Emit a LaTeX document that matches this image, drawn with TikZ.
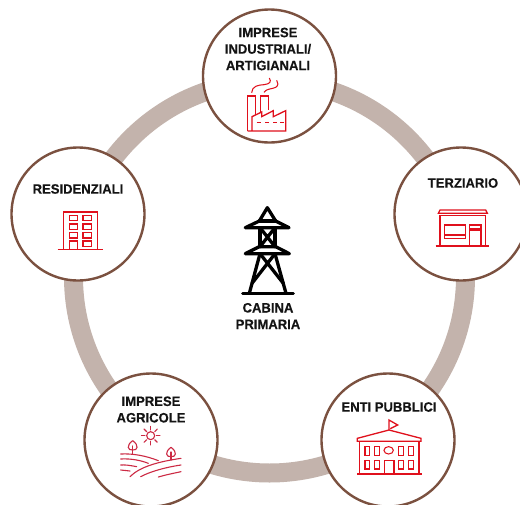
\documentclass[tikz,border=0pt]{standalone}
\usepackage{fontspec}
\usetikzlibrary{calc}
\setmainfont[BoldFeatures={FakeStretch=0.96,FakeBold=0.25}]{Liberation Sans}
\definecolor{ringc}{HTML}{C3B3AC}
\definecolor{rimc}{HTML}{7B5140}
\definecolor{iconred}{HTML}{E0101C}
\definecolor{fieldred}{HTML}{CC2A44}
\definecolor{labelc}{HTML}{141414}
\tikzset{
  hub/.style={circle,draw=rimc,line width=2.4pt,fill=white,minimum size=133pt,inner sep=0pt},
  hublabel/.style={font=\bfseries\fontsize{13.6}{16.5}\selectfont,text=labelc,align=center,inner sep=0pt},
  zoomed/.style={x=0.33333pt,y=-0.33333pt},
  icon/.style={draw=iconred,line width=1.3pt,line join=miter},
  iconthin/.style={draw=iconred,line width=1.05pt,line join=miter},
  field/.style={draw=fieldred,line width=1.1pt,line cap=round},
  pylon/.style={draw=black,line width=3.3pt,line join=round,line cap=round}
}
\begin{document}
\begin{tikzpicture}[x=1pt,y=-1pt]
\useasboundingbox (0,0) rectangle (520,504);
\clip (0,0) rectangle (520,504);
\fill[white] (0,0) rectangle (520,504);
% ring
\draw[ringc,line width=19pt] (269.5,277) circle[radius=196pt];
% hubs
\node[hub] (top) at (269.5,76) {};
\node[hub] (right) at (461,214) {};
\node[hub] (left) at (78,214) {};
\node[hub] (agri) at (151,440) {};
\node[hub] (pub) at (388,440) {};
% labels
\node[hublabel] (ltop) at (268,49) {IMPRESE\\INDUSTRIALI/\\ARTIGIANALI};
\node[hublabel] (lright) at (463,183) {TERZIARIO};
\node[hublabel] (lleft) at (78,189) {RESIDENZIALI};
\node[hublabel] (lagri) at (151,409.5) {IMPRESE\\AGRICOLE};
\node[hublabel] (lpub) at (389,407) {ENTI PUBBLICI};
\node[hublabel] (lcab) at (268,316) {CABINA\\PRIMARIA};
% factory
\begin{scope}[shift={(190pt,0pt)},zoomed]
\draw[icon] (173,393) -- (173,288) -- (197,288) -- (197,345);
\draw[icon] (212,340) -- (212,288) -- (236,288) -- (236,330);
\draw[icon] (173,393) -- (287,393) -- (287,332) -- (250,350) -- (250,332) -- (215,350) -- (215,336) -- (186,350) -- (186,393);
\foreach \a in {200,225,250,270}{\draw[iconthin] (\a,368) -- (\a+12,368);}
\draw[iconthin] (185,278) .. controls (186,258) and (205,255) .. (222,254) .. controls (240,252) and (245,245) .. (238,234);
\draw[iconthin] (222,277) .. controls (230,265) and (245,268) .. (257,262) .. controls (266,256) and (265,248) .. (260,241);
\end{scope}
% shop
\begin{scope}[shift={(380pt,-150pt)},zoomed]
\draw[icon] (175,190) -- (180,180) -- (317,180) -- (322,190) -- cycle;
\draw[icon] (180,288) -- (180,197) -- (316,197) -- (316,288);
\draw[icon] (167,288) -- (328,288);
\draw[icon] (193,225) rectangle (257,265);
\draw[iconthin] (193,255) -- (257,255);
\draw[icon] (268,288) -- (268,240) -- (303,240) -- (303,288);
\draw[iconthin] (268,225) rectangle (303,235);
\end{scope}
% block of flats
\begin{scope}[shift={(0pt,-160pt)},zoomed]
\draw[icon] (191,268) -- (191,156) -- (292,156) -- (292,268);
\draw[icon] (173,268) -- (310,268);
\foreach \b in {166,192,218}{\draw[iconthin] (208,\b) rectangle (233,\b+16);}
\foreach \b in {166,192,218,243}{\draw[iconthin] (249,\b) rectangle (274,\b+16);}
\draw[iconthin] (208,268) -- (208,243) -- (233,243) -- (233,268);
\end{scope}
% school
\begin{scope}[shift={(315pt,-370pt)},zoomed]
\draw[icon] (222,180) -- (222,150) -- (248,165) -- (226,176);
\draw[icon] (127,205) -- (222,180) -- (318,205) -- (318,214) -- (127,214) -- cycle;
\draw[icon] (134,214) -- (134,312);
\draw[icon] (312,214) -- (312,312);
\draw[icon] (127,312) -- (320,312);
\foreach \c in {150,179,251,281}{
  \draw[iconthin] (\c,230) rectangle (\c+14,256);
  \draw[iconthin] (\c,272) rectangle (\c+14,297);
}
\draw[iconthin] (221,241) ellipse[x radius=4.7pt,y radius=3.7pt];
\draw[icon] (208,312) -- (208,272) -- (237,272) -- (237,312);
\end{scope}
% fields
\begin{scope}[shift={(80pt,-370pt)},zoomed]
\draw[field] (212,197) circle[radius=4pt];
\foreach \t in {0,45,...,315}{\draw[field] ($(212,197)+(\t:5.7pt)$) -- ($(212,197)+(\t:9.3pt)$);}
\draw[field] (158,212) .. controls (138,226) and (143,242) .. (158,240) .. controls (173,242) and (178,226) .. (158,212);
\draw[field] (158,228) -- (158,253);
\draw[field] (273,232) .. controls (253,246) and (258,262) .. (273,260) .. controls (288,262) and (293,246) .. (273,232);
\draw[field] (273,246) -- (273,270);
\draw[field] (122,252) .. controls (160,250) and (200,258) .. (235,272);
\draw[field] (122,267) .. controls (155,265) and (185,272) .. (205,280);
\draw[field] (122,285) .. controls (135,284) and (150,286) .. (170,290);
\draw[field] (122,300) -- (150,303);
\draw[field] (150,320) .. controls (180,290) and (235,275) .. (303,265);
\draw[field] (182,320) .. controls (210,305) and (255,292) .. (303,285);
\draw[field] (235,321) .. controls (255,315) and (280,310) .. (303,305);
\end{scope}
% pylon
\begin{scope}[shift={(210pt,-195pt)},zoomed]
\draw[pylon] (106,98) -- (237,98) -- (197,78) -- (172,38) -- (148,78) -- cycle;
\draw[pylon] (148,78) -- (197,78);
\draw[pylon] (106,176) -- (238,176) -- (197,155) -- (148,155) -- cycle;
\draw[pylon] (150,98) -- (150,155) (195,98) -- (195,155);
\draw[pylon] (150,98) -- (195,155) (195,98) -- (150,155);
\draw[pylon] (150,176) -- (118,295) (195,176) -- (228,295);
\draw[pylon] (150,176) -- (220,265) (195,176) -- (126,265);
\draw[pylon] (98,295) -- (250,295);
\end{scope}
\end{tikzpicture}
\end{document}
